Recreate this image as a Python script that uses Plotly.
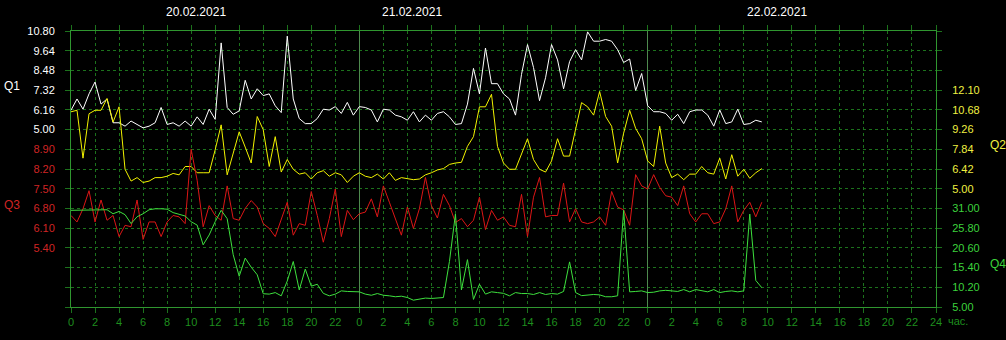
import plotly.graph_objects as go

# time in hours from 20.02.2021 00:00, 30-minute samples
hours = [i * 0.5 for i in range(116)]

q1 = [6.14, 6.8, 6.2, 7.1, 7.8, 6.5, 6.8, 5.4, 5.4, 5.2, 5.5, 5.3, 5.1, 5.2, 5.4, 6.3, 5.3, 5.4, 5.2, 5.5,
      5.2, 5.75, 5.3, 6.2, 5.6, 10.1, 6.3, 5.9, 6.1, 7.9,
      6.8, 7.4, 7.0, 7.1, 6.4, 6.0, 10.5, 6.8, 5.65, 5.35, 5.35, 5.65, 6.2, 6.15, 6.35, 5.95, 6.6, 5.85,
      6.35, 6.3, 6.15, 5.45, 6.2, 6.15, 5.85, 5.75, 5.55, 6.05, 5.45,
      5.85, 5.55, 5.95, 6.05, 5.75, 5.3, 5.35, 6.5, 8.6, 7.1, 9.8, 7.7, 7.7, 7.1, 6.8, 5.85, 8.25, 10.0,
      8.65, 6.7, 8.05, 10.0, 9.1, 7.4, 9.0, 9.7, 9.1, 10.75, 10.2,
      10.2, 10.3, 10.2, 9.7, 8.95, 9.15, 7.3, 8.3, 6.4, 6.05, 6.05, 5.95, 5.55, 5.9, 5.35, 6.05, 6.15,
      6.15, 5.85, 5.2, 6.15, 5.35, 5.45, 6.2, 5.3, 5.35, 5.55, 5.45]

q2 = [10.54, 10.65, 7.2, 10.4, 10.65, 10.65, 11.5, 9.8, 10.9, 6.4, 5.55, 5.8, 5.45, 5.55, 5.8, 5.8, 5.9,
      6.1, 6.0, 6.6, 6.6, 6.15, 6.15, 6.15, 7.8, 9.6, 6.0, 7.6, 9.1, 8.0,
      6.85, 10.2, 9.25, 6.6, 8.75, 6.2, 7.1, 6.4, 6.05, 6.15, 5.7, 6.15, 6.3, 5.9, 6.15, 6.0, 5.45, 5.9,
      6.15, 5.9, 5.8, 6.05, 5.7, 6.15, 5.6, 5.8, 5.7, 5.65, 5.7,
      6.0, 6.15, 6.35, 6.45, 6.75, 6.85, 6.9, 8.05, 8.75, 10.9, 10.9, 11.8, 8.05, 6.85, 6.4, 6.4, 7.45,
      8.6, 7.1, 6.4, 6.2, 7.0, 8.6, 7.35, 7.35, 9.25, 11.2, 10.9, 10.3,
      12.0, 10.2, 9.5, 6.85, 9.0, 10.65, 9.35, 8.6, 7.0, 6.6, 9.5, 6.85, 5.8, 6.05, 5.65, 6.05, 6.05,
      6.6, 6.15, 6.05, 7.2, 5.7, 7.45, 5.9, 6.4, 5.75, 6.15, 6.45]

q3 = [6.55, 6.32, 6.79, 7.43, 6.32, 7.1, 6.38, 6.55, 5.8, 6.2, 6.15, 7.1, 5.7, 6.32, 6.32, 5.8, 6.32,
      6.55, 6.5, 6.26, 8.9, 7.8, 6.15, 6.9, 6.55, 6.38, 7.6, 6.44, 6.38, 6.8,
      7.08, 6.85, 6.26, 6.09, 5.8, 6.44, 7.02, 5.85, 6.26, 6.2, 7.4, 6.55, 5.6, 6.44, 7.49, 5.8, 6.73,
      6.4, 6.61, 6.67, 7.14, 6.5, 7.6, 7.02, 6.44, 5.85, 6.85, 6.09, 6.79,
      7.9, 6.9, 6.46, 7.3, 6.9, 6.3, 6.44, 6.15, 6.38, 7.2, 6.05, 6.73, 6.38, 6.5, 6.2, 6.15, 7.3, 5.8,
      7.2, 7.9, 6.5, 6.55, 6.55, 7.7, 6.32, 6.79, 6.32, 6.26, 6.32,
      6.5, 6.2, 7.4, 6.85, 6.75, 6.2, 8.0, 7.6, 7.49, 8.0, 7.55, 7.25, 7.2, 6.9, 7.6, 6.61, 6.32, 6.61,
      6.61, 6.26, 6.32, 6.79, 7.6, 6.32, 6.73, 7.02, 6.5, 7.02]

q4 = [30.5, 30.5, 30.7, 30.7, 30.7, 30.65, 30.65, 29.6, 30.2, 29.35, 27.0, 28.8, 29.6, 30.65, 30.9,
      30.9, 30.8, 29.9, 29.5, 29.0, 27.5, 26.6, 21.4, 24.0, 27.5, 30.5, 28.3, 18.8, 13.1, 17.9,
      15.5, 13.5, 8.5, 8.4, 8.8, 7.95, 11.85, 17.0, 9.5, 15.0, 10.5, 11.0, 8.6, 7.95, 8.4, 9.25, 9.1,
      9.0, 9.0, 8.4, 8.1, 8.55, 8.1, 7.95, 7.7, 7.85, 7.5, 6.8, 7.0,
      7.35, 7.25, 7.35, 7.5, 17.0, 29.5, 9.5, 17.5, 7.0, 11.0, 8.4, 9.0, 8.8, 8.6, 7.95, 8.8, 8.55,
      8.55, 8.3, 8.8, 8.3, 8.55, 8.4, 9.1, 16.9, 8.8, 8.0, 8.2, 8.3,
      8.2, 7.7, 7.7, 7.95, 30.5, 9.0, 9.1, 9.25, 8.8, 8.9, 9.25, 9.4, 9.25, 9.1, 9.6, 9.0, 9.6, 9.25,
      9.0, 9.6, 8.8, 9.1, 9.25, 9.0, 9.25, 29.5, 12.0, 10.1]

# axis ticks
x_tickvals = list(range(0, 73, 2))
x_ticktext = [str(h % 24) if h < 72 else "24" for h in x_tickvals]
dates = ["20.02.2021", "21.02.2021", "22.02.2021"]

q1_ticks = [10.80, 9.64, 8.48, 7.32, 6.16, 5.00]
q3_ticks = [8.90, 8.20, 7.50, 6.80, 6.10, 5.40]
q2_ticks = [12.10, 10.68, 9.26, 7.84, 6.42, 5.00]
q4_ticks = [31.00, 25.80, 20.60, 15.40, 10.20, 5.00]

# full grid rows for Q1 axis (14 intervals)
q1_step = 1.16
q1_rows = [round(10.80 - q1_step * k, 2) for k in range(15)]
q1_rowtext = [f"{v:.2f}" if v in q1_ticks else "" for v in q1_rows]

GRID = "#1c721c"
BORDER = "#2f962f"
XLAB = "#1e8e1e"
FONT = "Liberation Sans, Arial, sans-serif"

fig = go.Figure()
fig.add_trace(go.Scatter(x=hours, y=q1, mode="lines", line=dict(color="#ffffff", width=1), yaxis="y"))
fig.add_trace(go.Scatter(x=hours, y=q2, mode="lines", line=dict(color="#f2f200", width=1), yaxis="y2"))
fig.add_trace(go.Scatter(x=hours, y=q3, mode="lines", line=dict(color="#dc1616", width=1), yaxis="y3"))
fig.add_trace(go.Scatter(x=hours, y=q4, mode="lines", line=dict(color="#3ee03e", width=1), yaxis="y4"))
# day boundary lines via overlay x axis
fig.add_trace(go.Scatter(x=[], y=[], xaxis="x2", yaxis="y", showlegend=False))

common_y = dict(ticks="outside", ticklen=5, tickcolor=GRID, zeroline=False, fixedrange=True,
                ticklabelstandoff=8)

fig.update_layout(
    width=1006, height=340,
    margin=dict(l=71, r=70, t=31, b=29),
    paper_bgcolor="#000000", plot_bgcolor="#000000",
    showlegend=False,
    font=dict(family=FONT, size=11),
    xaxis=dict(range=[0, 72], tickvals=x_tickvals, ticktext=x_ticktext,
               tickfont=dict(color=XLAB, size=11), ticks="outside", ticklen=5, tickcolor=GRID,
               showgrid=True, gridcolor=GRID, griddash="3px,3px", gridwidth=1,
               showline=True, linecolor=BORDER, linewidth=1, mirror="ticks", zeroline=False),
    xaxis2=dict(range=[0, 72], overlaying="x", tickvals=[24, 48], showticklabels=False,
                showgrid=True, gridcolor="#4e8a4e", gridwidth=1, showline=False, zeroline=False),
    yaxis=dict(range=[10.80 - 14 * q1_step, 10.80], tickvals=q1_rows, ticktext=q1_rowtext,
               tickfont=dict(color="#ffffff"), showgrid=True, gridcolor=GRID, griddash="3px,3px",
               showline=True, linecolor=BORDER, linewidth=1, mirror="ticks", side="left", **common_y),
    yaxis3=dict(range=[8.90 - 8 * 0.7, 8.90 + 6 * 0.7], overlaying="y", side="left",
                tickvals=q3_ticks, ticktext=[f"{v:.2f}" for v in q3_ticks],
                tickfont=dict(color="#d02424"), showgrid=False, showline=False, **common_y),
    yaxis2=dict(range=[5.00 - 6 * 1.42, 12.10 + 3 * 1.42], overlaying="y", side="right",
                tickvals=q2_ticks, ticktext=[f"{v:.2f}" for v in q2_ticks],
                tickfont=dict(color="#f0f040"), showgrid=False, showline=False, **common_y),
    yaxis4=dict(range=[5.00, 31.00 + 9 * 5.2], overlaying="y", side="right",
                tickvals=q4_ticks, ticktext=[f"{v:.2f}" for v in q4_ticks],
                tickfont=dict(color="#3cd23c"), showgrid=False, showline=False, **common_y),
)

# date labels
date_pos = [0.1445, 0.394, 0.816]
for d, px in zip(dates, date_pos):
    fig.add_annotation(text=d, xref="paper", yref="paper", x=px, y=1.068, showarrow=False,
                       xanchor="center", yanchor="middle",
                       font=dict(family="Liberation Sans Narrow, Liberation Sans, Arial", size=12, color="#ffffff"))

# axis names
for name, px, py, col in [("Q1", -0.068, 0.80, "#ffffff"), ("Q3", -0.068, 0.371, "#d02424"),
                          ("Q2", 1.0717, 0.586, "#f0f040"), ("Q4", 1.0717, 0.157, "#3cd23c")]:
    fig.add_annotation(text=name, xref="paper", yref="paper", x=px, y=py, showarrow=False,
                       xanchor="center", yanchor="middle", font=dict(size=12, color=col))

fig.add_annotation(text="час.", xref="paper", yref="paper", x=1.0116, y=-0.05, showarrow=False,
                   xanchor="left", yanchor="middle", font=dict(size=11, color=XLAB))

fig.write_html("out.html")
